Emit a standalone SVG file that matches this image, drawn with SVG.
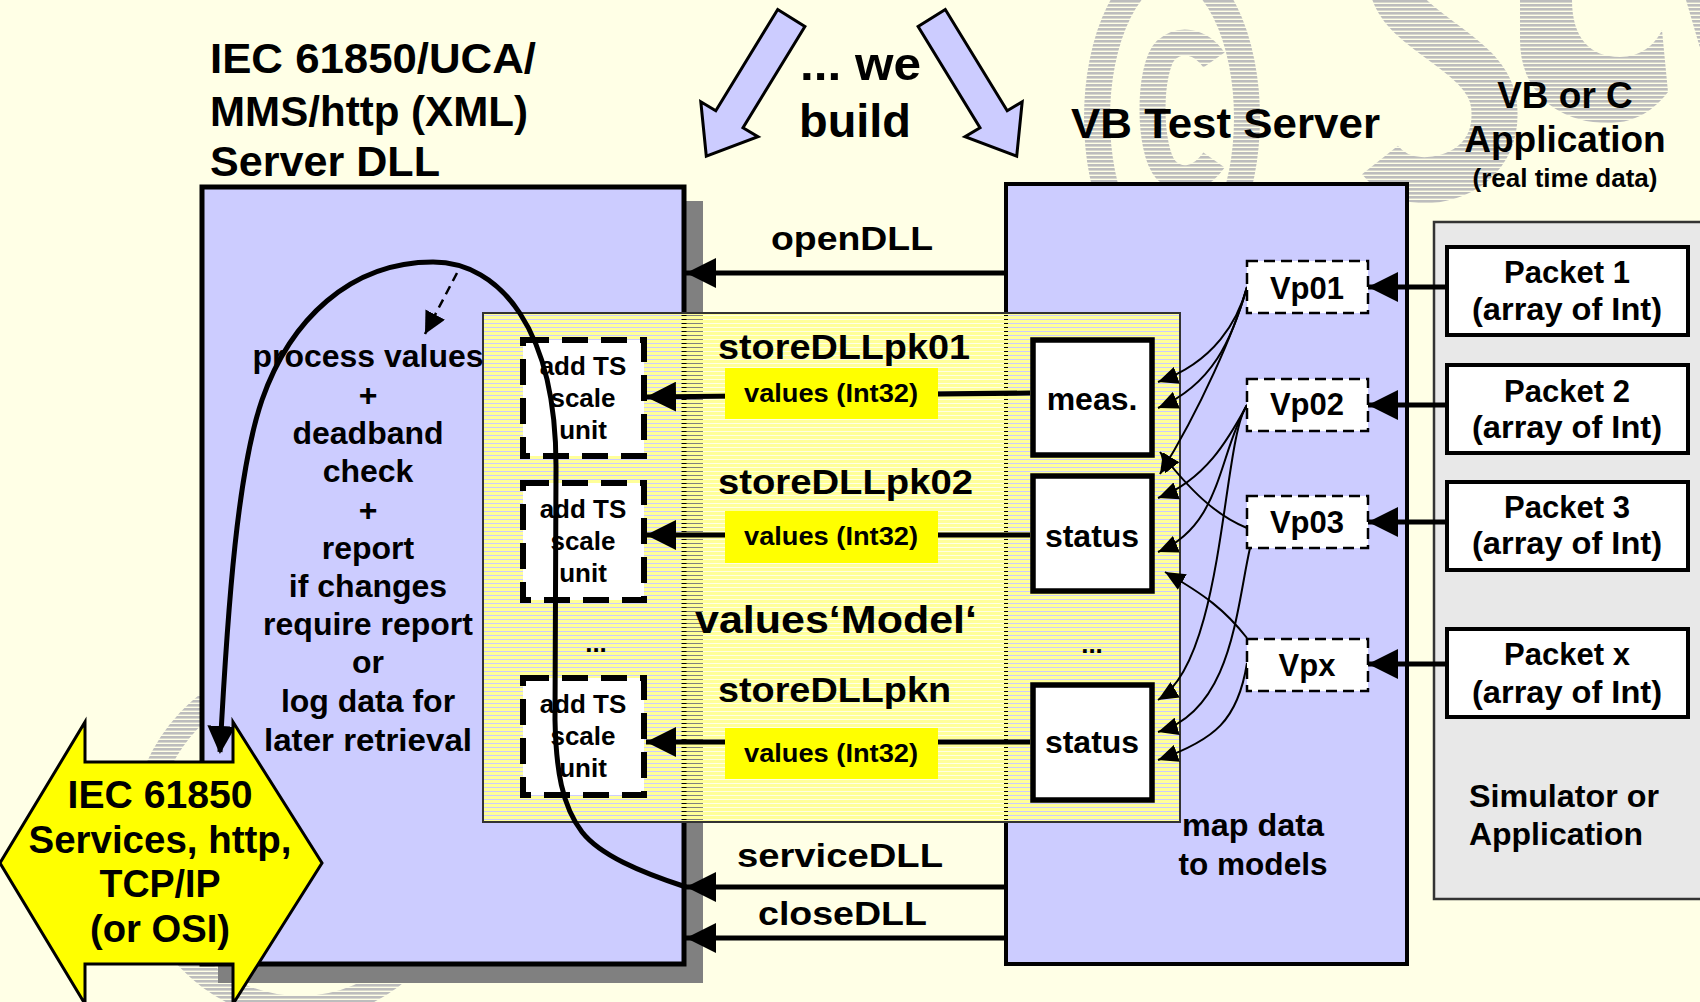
<svg xmlns="http://www.w3.org/2000/svg" width="1700" height="1002" viewBox="0 0 1700 1002">
<defs>
<style>
.t{font-family:"Liberation Sans",Arial,Helvetica,sans-serif;font-weight:bold;fill:#000}
.m{text-anchor:middle}
.wm{fill:url(#gs)}
.wms{fill:none;stroke:url(#gs)}
.lav{fill:#CCCCFF}
.thick{stroke:#000;stroke-width:5;fill:none;marker-end:url(#ah)}
.thin{stroke:#000;stroke-width:2;fill:none;marker-end:url(#as)}
.vp{fill:#fff;stroke:#000;stroke-width:2.5;stroke-dasharray:11 6}
.add{fill:#fff;stroke:#000;stroke-width:6;stroke-dasharray:26 13}
.mb{fill:#fff;stroke:#000;stroke-width:5.5}
.pk{fill:#fff;stroke:#000;stroke-width:4}
.yl{fill:#FFFF00}
</style>
<pattern id="gs" width="10" height="4" patternUnits="userSpaceOnUse"><rect width="10" height="2.6" fill="#BDBDBD"/></pattern>
<pattern id="ys" width="10" height="4" patternUnits="userSpaceOnUse"><rect width="10" height="3" fill="#FFFF99"/></pattern>
<marker id="ah" markerUnits="userSpaceOnUse" markerWidth="30" markerHeight="30" refX="30" refY="15" orient="auto"><path d="M0,0 L30,15 L0,30 Z" fill="#000"/></marker>
<marker id="as" markerUnits="userSpaceOnUse" markerWidth="20" markerHeight="18" refX="20" refY="9" orient="auto"><path d="M0,0 L20,9 L0,18 Z" fill="#000"/></marker>
<marker id="ac" markerUnits="userSpaceOnUse" markerWidth="28" markerHeight="28" refX="26" refY="14" orient="auto"><path d="M0,0 L28,14 L0,28 Z" fill="#000"/></marker>
<marker id="ad" markerUnits="userSpaceOnUse" markerWidth="22" markerHeight="22" refX="22" refY="11" orient="auto"><path d="M0,0 L22,11 L0,22 Z" fill="#000"/></marker>
</defs>

<rect width="1700" height="1002" fill="#FFFFE6"/>

<g id="watermark">
<ellipse class="wms" cx="1172" cy="118" rx="75" ry="150" stroke-width="26"/>
<path class="wms" d="M1214,60 C1200,40 1180,38 1166,50 C1148,68 1148,150 1166,170 C1180,184 1200,180 1214,160" stroke-width="26"/>
<path class="wms" d="M1392,-20 C1392,30 1488,50 1494,105 C1500,160 1455,182 1420,180 C1400,179 1388,170 1380,160" stroke-width="46"/>
<path class="wm" d="M1520,0 L1572,0 C1572,38 1590,57 1620,57 C1640,57 1655,45 1662,30 L1668,92 C1650,115 1630,123 1608,123 C1558,123 1520,92 1520,40 Z"/>
<path class="wm" d="M1686,0 L1700,0 L1700,48 Z"/>
<ellipse class="wms" cx="300" cy="840" rx="158" ry="168" stroke-width="24"/>
</g>

<g id="build-arrows">
<polygon points="777.7,9.5 804.9,26.5 743,127.7 758,136.7 706.3,156.2 700.8,101.7 715.8,110.7" fill="#CCCCFF" stroke="#000" stroke-width="3"/>
<polygon points="945.3,9.5 918.1,26.5 980,127.7 965,136.7 1016.7,156.2 1022.2,101.7 1007.2,110.7" fill="#CCCCFF" stroke="#000" stroke-width="3"/>
<text class="t" x="800" y="80" font-size="47" textLength="121" lengthAdjust="spacingAndGlyphs">... we</text>
<text class="t" x="799" y="137" font-size="47" textLength="112" lengthAdjust="spacingAndGlyphs">build</text>
</g>

<g id="server-dll">
<rect x="218" y="201" width="485" height="782" fill="#808080"/>
<rect x="202" y="187" width="482" height="777" class="lav" stroke="#000" stroke-width="5"/>
<text class="t" x="210" y="73" font-size="42" textLength="326" lengthAdjust="spacingAndGlyphs">IEC 61850/UCA/</text>
<text class="t" x="210" y="126" font-size="42" textLength="318" lengthAdjust="spacingAndGlyphs">MMS/http (XML)</text>
<text class="t" x="210" y="176" font-size="42" textLength="230" lengthAdjust="spacingAndGlyphs">Server DLL</text>
</g>

<g id="vb-test-server">
<rect x="1006" y="184" width="401" height="780" class="lav" stroke="#000" stroke-width="4"/>
<text class="t" x="1071" y="138" font-size="42" textLength="309" lengthAdjust="spacingAndGlyphs">VB Test Server</text>
<text class="t m" x="1253" y="836" font-size="32" textLength="142" lengthAdjust="spacingAndGlyphs">map data</text>
<text class="t m" x="1253" y="875" font-size="32" textLength="149" lengthAdjust="spacingAndGlyphs">to models</text>
</g>

<g id="application">
<rect x="1434" y="222" width="280" height="677" fill="#E8E8E8" stroke="#333" stroke-width="2.5"/>
<text class="t m" x="1565" y="108" font-size="37">VB or C</text>
<text class="t m" x="1565" y="152" font-size="37">Application</text>
<text class="t m" x="1565" y="187" font-size="26">(real time data)</text>
<text class="t" x="1469" y="807" font-size="31" textLength="190" lengthAdjust="spacingAndGlyphs">Simulator or</text>
<text class="t" x="1469" y="845" font-size="31" textLength="174" lengthAdjust="spacingAndGlyphs">Application</text>
</g>

<g id="values-model">
<rect x="483" y="313" width="697" height="509" fill="url(#ys)" stroke="#333" stroke-width="2"/>
<text class="t" x="718" y="359" font-size="35" textLength="252" lengthAdjust="spacingAndGlyphs">storeDLLpk01</text>
<text class="t" x="718" y="494" font-size="35" textLength="255" lengthAdjust="spacingAndGlyphs">storeDLLpk02</text>
<text class="t" x="718" y="702" font-size="35" textLength="233" lengthAdjust="spacingAndGlyphs">storeDLLpkn</text>
<text class="t" x="695" y="633" font-size="38" textLength="282" lengthAdjust="spacingAndGlyphs">values‘Model‘</text>
<text class="t m" x="596" y="652" font-size="26">...</text>
<text class="t m" x="1092" y="653" font-size="26">...</text>
</g>

<g id="add-boxes">
<g id="add1"><rect class="add" x="523" y="340" width="121" height="116"/>
<text class="t m" x="583" y="375" font-size="26">add TS</text><text class="t m" x="583" y="407" font-size="26">scale</text><text class="t m" x="583" y="439" font-size="26">unit</text></g>
<g id="add2"><rect class="add" x="523" y="483" width="121" height="117"/>
<text class="t m" x="583" y="518" font-size="26">add TS</text><text class="t m" x="583" y="550" font-size="26">scale</text><text class="t m" x="583" y="582" font-size="26">unit</text></g>
<g id="add3"><rect class="add" x="523" y="678" width="121" height="117"/>
<text class="t m" x="583" y="713" font-size="26">add TS</text><text class="t m" x="583" y="745" font-size="26">scale</text><text class="t m" x="583" y="777" font-size="26">unit</text></g>
</g>

<g id="model-boxes">
<g id="meas"><rect class="mb" x="1033" y="340" width="119" height="115"/><text class="t m" x="1092" y="410" font-size="32">meas.</text></g>
<g id="status1"><rect class="mb" x="1033" y="476" width="119" height="115"/><text class="t m" x="1092" y="547" font-size="32">status</text></g>
<g id="status2"><rect class="mb" x="1033" y="685" width="119" height="115"/><text class="t m" x="1092" y="753" font-size="32">status</text></g>
</g>

<g id="packets">
<g id="packet1"><rect class="pk" x="1447" y="247" width="241" height="88"/><text class="t m" x="1567" y="283" font-size="31">Packet 1</text><text class="t m" x="1567" y="320" font-size="31" textLength="190" lengthAdjust="spacingAndGlyphs">(array of Int)</text></g>
<g id="packet2"><rect class="pk" x="1447" y="365" width="241" height="88"/><text class="t m" x="1567" y="402" font-size="31">Packet 2</text><text class="t m" x="1567" y="438" font-size="31" textLength="190" lengthAdjust="spacingAndGlyphs">(array of Int)</text></g>
<g id="packet3"><rect class="pk" x="1447" y="482" width="241" height="88"/><text class="t m" x="1567" y="518" font-size="31">Packet 3</text><text class="t m" x="1567" y="554" font-size="31" textLength="190" lengthAdjust="spacingAndGlyphs">(array of Int)</text></g>
<g id="packetx"><rect class="pk" x="1447" y="629" width="241" height="88"/><text class="t m" x="1567" y="665" font-size="31">Packet x</text><text class="t m" x="1567" y="703" font-size="31" textLength="190" lengthAdjust="spacingAndGlyphs">(array of Int)</text></g>
</g>

<g id="connectors">
<line class="thick" x1="1006" y1="273" x2="686" y2="273"/>
<line class="thick" x1="1006" y1="887" x2="686" y2="887"/>
<line class="thick" x1="1006" y1="938" x2="686" y2="938"/>
<line class="thick" x1="1030" y1="393" x2="646" y2="397"/>
<line class="thick" x1="1030" y1="535" x2="646" y2="535"/>
<line class="thick" x1="1030" y1="742" x2="646" y2="742"/>
<line class="thick" x1="1447" y1="287" x2="1368" y2="287"/>
<line class="thick" x1="1447" y1="405" x2="1368" y2="405"/>
<line class="thick" x1="1447" y1="522" x2="1368" y2="522"/>
<line class="thick" x1="1447" y1="664" x2="1368" y2="664"/>
<path class="thin" d="M1247,287 C1238,320 1215,362 1158,382"/>
<path class="thin" d="M1247,287 C1232,340 1212,385 1158,408"/>
<path class="thin" d="M1247,287 C1235,330 1200,410 1160,474"/>
<path class="thin" d="M1247,405 C1228,440 1205,480 1158,498"/>
<path class="thin" d="M1247,405 C1218,455 1222,525 1158,552"/>
<path class="thin" d="M1247,405 C1222,440 1225,660 1158,700"/>
<path class="thin" d="M1250,548 C1236,610 1232,710 1158,732"/>
<path class="thin" d="M1247,528 C1215,515 1190,490 1160,452"/>
<path class="thin" d="M1247,638 C1225,610 1205,595 1165,572"/>
<path class="thin" d="M1247,663 C1238,720 1215,740 1158,760"/>
<line x1="457" y1="273" x2="425" y2="334" stroke="#000" stroke-width="2.5" stroke-dasharray="9 6" marker-end="url(#ad)"/>
<path d="M686,887 C640,872 600,855 582,832 C562,806 556,770 555,720 L556,470 C557,330 500,262 433,262 C350,262 290,320 262,400 C238,470 228,600 220,752" fill="none" stroke="#000" stroke-width="5" marker-end="url(#ac)"/>
</g>

<g id="value-labels">
<rect class="yl" x="725" y="368" width="213" height="51"/><text class="t m" x="831" y="402" font-size="26" textLength="174" lengthAdjust="spacingAndGlyphs">values (Int32)</text>
<rect class="yl" x="725" y="511" width="213" height="52"/><text class="t m" x="831" y="545" font-size="26" textLength="174" lengthAdjust="spacingAndGlyphs">values (Int32)</text>
<rect class="yl" x="725" y="728" width="213" height="51"/><text class="t m" x="831" y="762" font-size="26" textLength="174" lengthAdjust="spacingAndGlyphs">values (Int32)</text>
</g>

<g id="vp-boxes">
<g id="vp01"><rect class="vp" x="1247" y="261" width="121" height="52"/><text class="t m" x="1307" y="299" font-size="31">Vp01</text></g>
<g id="vp02"><rect class="vp" x="1247" y="379" width="121" height="52"/><text class="t m" x="1307" y="415" font-size="31">Vp02</text></g>
<g id="vp03"><rect class="vp" x="1247" y="496" width="121" height="52"/><text class="t m" x="1307" y="533" font-size="31">Vp03</text></g>
<g id="vpx"><rect class="vp" x="1247" y="639" width="121" height="52"/><text class="t m" x="1307" y="676" font-size="31">Vpx</text></g>
</g>

<g id="process-text">
<text class="t m" x="368" y="367" font-size="32" textLength="231" lengthAdjust="spacingAndGlyphs">process values</text>
<text class="t m" x="368" y="406" font-size="32">+</text>
<text class="t m" x="368" y="444" font-size="32">deadband</text>
<text class="t m" x="368" y="482" font-size="32">check</text>
<text class="t m" x="368" y="521" font-size="32">+</text>
<text class="t m" x="368" y="559" font-size="32">report</text>
<text class="t m" x="368" y="597" font-size="32">if changes</text>
<text class="t m" x="368" y="635" font-size="32">require report</text>
<text class="t m" x="368" y="673" font-size="32">or</text>
<text class="t m" x="368" y="712" font-size="32">log data for</text>
<text class="t m" x="368" y="751" font-size="32" textLength="208" lengthAdjust="spacingAndGlyphs">later retrieval</text>
</g>

<g id="operations">
<text class="t" x="771" y="250" font-size="34" textLength="162" lengthAdjust="spacingAndGlyphs">openDLL</text>
<text class="t" x="737" y="867" font-size="34" textLength="206" lengthAdjust="spacingAndGlyphs">serviceDLL</text>
<text class="t" x="758" y="925" font-size="34" textLength="169" lengthAdjust="spacingAndGlyphs">closeDLL</text>
</g>

<g id="iec-services">
<polygon points="0,863 85,722 85,762 233,762 233,722 322,863 233,1004 233,964 85,964 85,1004" fill="#FFFF00" stroke="#000" stroke-width="3"/>
<text class="t m" x="160" y="808" font-size="38" textLength="185" lengthAdjust="spacingAndGlyphs">IEC 61850</text>
<text class="t m" x="160" y="853" font-size="38" textLength="263" lengthAdjust="spacingAndGlyphs">Services, http,</text>
<text class="t m" x="160" y="897" font-size="38" textLength="121" lengthAdjust="spacingAndGlyphs">TCP/IP</text>
<text class="t m" x="160" y="942" font-size="38" textLength="140" lengthAdjust="spacingAndGlyphs">(or OSI)</text>
</g>
</svg>
